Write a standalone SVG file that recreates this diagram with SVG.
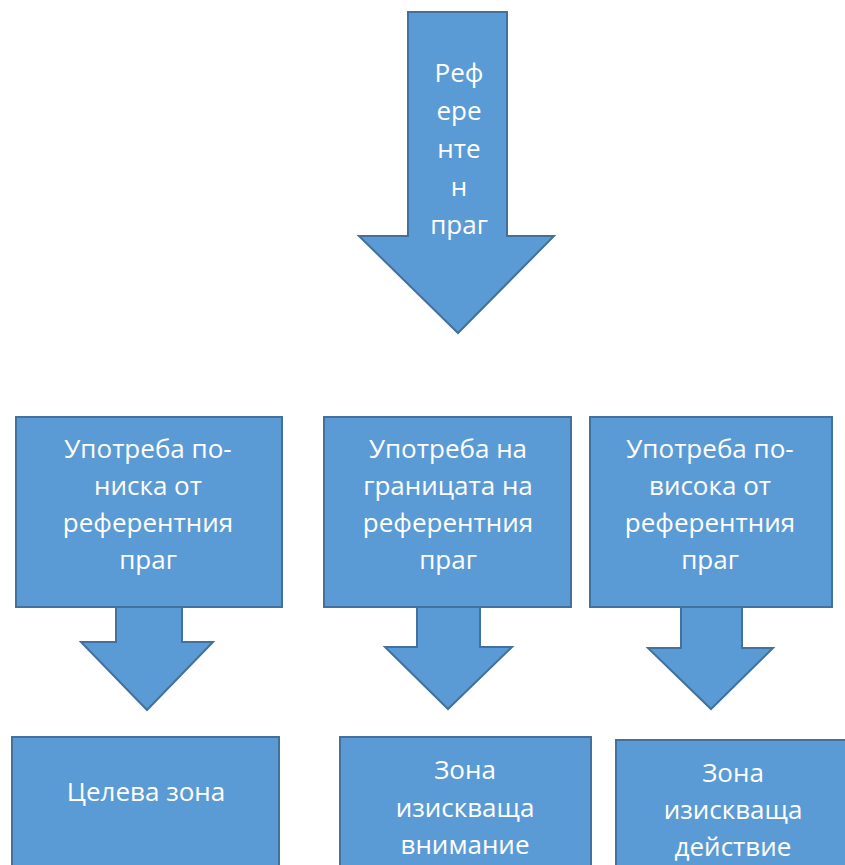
<svg xmlns="http://www.w3.org/2000/svg" width="845" height="865" viewBox="0 0 845 865">
<style>
.s{fill:#5B9BD5;stroke:#41719C;stroke-width:2;stroke-linejoin:miter}
.t{font-family:"Open Sans","Liberation Sans",sans-serif;font-size:26px;fill:#FFFFFF;text-anchor:middle}
</style>
<rect width="845" height="865" fill="#FFFFFF"/>
<g id="ref-arrow">
<polygon class="s" points="408,12 507,12 507,236 554,236 458,333 359,236 408,236"/>
<text class="t" x="459" y="82">Реф</text>
<text class="t" x="459" y="120">ере</text>
<text class="t" x="459" y="158">нте</text>
<text class="t" x="459" y="196">н</text>
<text class="t" x="459" y="234">праг</text>
</g>
<g id="below">
<rect class="s" x="16" y="417" width="266" height="190"/>
<text class="t" x="148" y="458">Употреба по-</text>
<text class="t" x="148" y="495">ниска от</text>
<text class="t" x="148" y="532">референтния</text>
<text class="t" x="148" y="569">праг</text>
</g>
<g id="border">
<rect class="s" x="324" y="417" width="247" height="190"/>
<text class="t" x="448" y="458">Употреба на</text>
<text class="t" x="448" y="495">границата на</text>
<text class="t" x="448" y="532">референтния</text>
<text class="t" x="448" y="569">праг</text>
</g>
<g id="above">
<rect class="s" x="590" y="417" width="242" height="190"/>
<text class="t" x="710" y="458">Употреба по-</text>
<text class="t" x="710" y="495">висока от</text>
<text class="t" x="710" y="532">референтния</text>
<text class="t" x="710" y="569">праг</text>
</g>
<g id="connectors">
<polygon class="s" points="116,607 182,607 182,642 213,642 147,710 81,642 116,642"/>
<polygon class="s" points="417,607 480,607 480,647 512,647 448,709 385,647 417,647"/>
<polygon class="s" points="681,607 742,607 742,648 773,648 711,709 648,648 681,648"/>
</g>
<g id="target">
<rect class="s" x="12" y="737" width="267" height="140"/>
<text class="t" x="146" y="801">Целева зона</text>
</g>
<g id="attention">
<rect class="s" x="340" y="737" width="251" height="140"/>
<text class="t" x="465" y="779">Зона</text>
<text class="t" x="465" y="817">изискваща</text>
<text class="t" x="465" y="854">внимание</text>
</g>
<g id="action">
<rect class="s" x="616" y="740" width="240" height="140"/>
<text class="t" x="733" y="782">Зона</text>
<text class="t" x="733" y="819">изискваща</text>
<text class="t" x="733" y="856">действие</text>
</g>
</svg>
